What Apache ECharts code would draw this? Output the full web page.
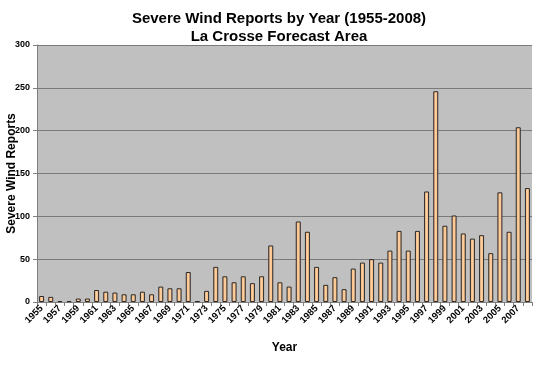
<!DOCTYPE html>
<html>
<head>
<meta charset="utf-8">
<script src="https://cdn.jsdelivr.net/npm/echarts@6/dist/echarts.min.js"></script>
<style>html,body{margin:0;padding:0;background:#fff}#c{width:540px;height:368px}</style>
</head>
<body>
<div id="c"></div>
<script>
var years = [];
for (var y = 1955; y <= 2008; y++) years.push(String(y));
var reports = [7,6,1,1,4,4,14,12,11,9,9,12,9,18,16,16,35,1,13,
  41,30,23,30,22,30,66,23,18,94,82,41,20,29,15,39,46,
  50,46,60,83,60,83,129,246,89,101,80,74,78,57,128,82,204,133];
var yTicks = [0,50,100,150,200,250,300];

var chart = echarts.init(document.getElementById('c'));
chart.setOption({
  animation: false,
  backgroundColor: '#ffffff',
  title: {
    text: 'Severe Wind Reports by Year (1955-2008)\nLa Crosse Forecast Area',
    left: 274, top: 5, textAlign: 'center',
    textStyle: {fontFamily: 'Liberation Sans', fontWeight: 'bold', fontSize: 15, lineHeight: 18, color: '#000'}
  },
  grid: {left: 37, right: 8, top: 45, bottom: 66, show: true, backgroundColor: '#C0C0C0', borderWidth: 0,
    containLabel: false, outerBoundsMode: 'none'},
  xAxis: {
    type: 'category', data: years,
    name: 'Year', nameLocation: 'middle', nameGap: 40, nameMoveOverlap: false,
    nameTextStyle: {fontFamily: 'Liberation Sans', fontWeight: 'bold', fontSize: 12, color: '#000'},
    axisLine: {lineStyle: {color: '#808080'}},
    axisTick: {show: true, interval: 0, lineStyle: {color: '#808080'}, length: 4},
    axisLabel: {interval: 1, rotate: 45, fontFamily: 'Liberation Sans', fontWeight: 'bold', fontSize: 9.5, color: '#000', margin: 5}
  },
  yAxis: {
    type: 'value', min: 0, max: 300, interval: 50,
    name: 'Severe Wind Reports', nameLocation: 'middle', nameGap: 19, nameMoveOverlap: false,
    nameTextStyle: {fontFamily: 'Liberation Sans', fontWeight: 'bold', fontSize: 12, color: '#000'},
    axisLine: {show: true, lineStyle: {color: '#808080'}},
    axisTick: {show: true, lineStyle: {color: '#808080'}, length: 4},
    axisLabel: {fontFamily: 'Liberation Sans', fontWeight: 'bold', fontSize: 9, color: '#000', margin: 7,
      formatter: function(v){ return yTicks.indexOf(v) >= 0 ? String(v) : ''; }},
    splitLine: {lineStyle: {color: '#7a7a7a', width: 1}}
  },
  series: [{
    type: 'bar', data: reports, barWidth: 5,
    itemStyle: {
      color: new echarts.graphic.LinearGradient(0, 0, 1, 0, [
        {offset: 0, color: '#F0A868'}, {offset: 0.5, color: '#FFD2A4'}, {offset: 1, color: '#F0A868'}
      ]),
      borderColor: '#2a2a2a', borderWidth: 1
    }
  }]
});
</script>
</body>
</html>
